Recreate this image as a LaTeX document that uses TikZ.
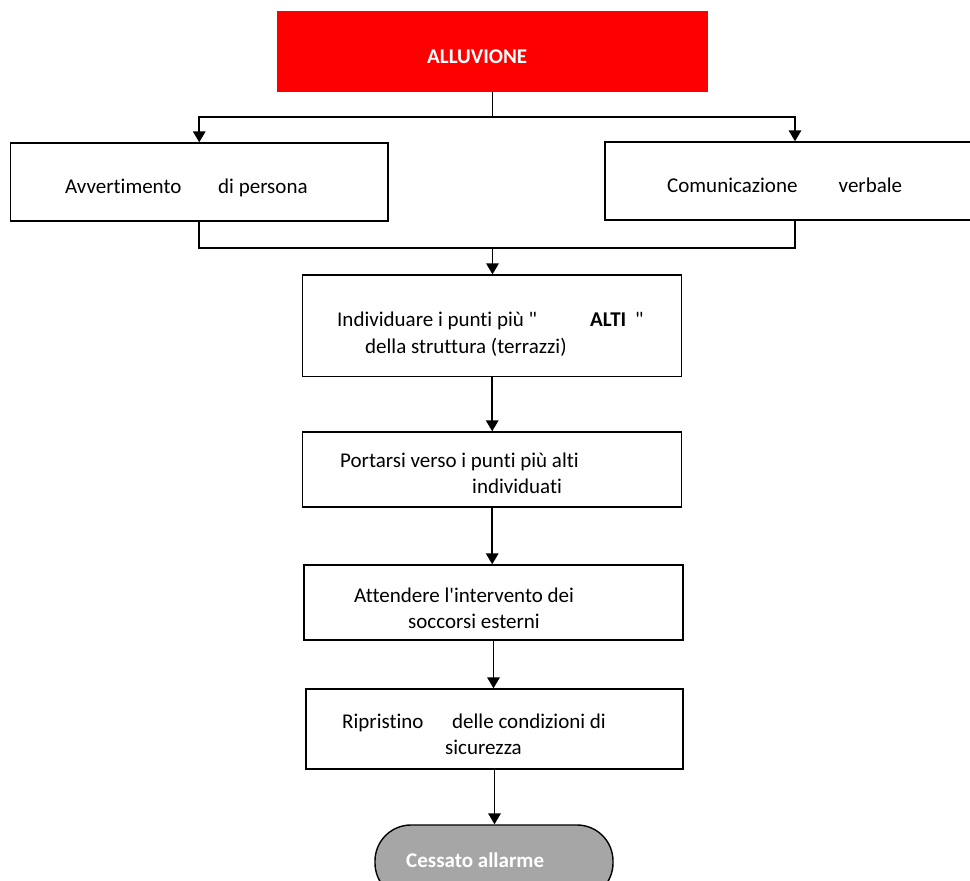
\documentclass[tikz,border=0pt]{standalone}
\usepackage{fontspec}
\setmainfont{Carlito}[Ligatures={TeXOff,NoCommon}]
\usetikzlibrary{arrows.meta}
\definecolor{alred}{HTML}{FF0000}
\definecolor{termgray}{HTML}{A6A6A6}
\tikzset{
  box/.style={draw=black, line width=1.4pt, inner sep=0pt, fill=white},
  txt/.style={anchor=base west, inner sep=0pt, font=\fontsize{21}{25}\selectfont},
  btxt/.style={txt, font=\fontsize{21}{25}\selectfont\bfseries},
  conn/.style={line width=1.7pt, draw=black},
  arr/.style={conn, -{Triangle[width=12.5pt,length=11pt]}}
}
\begin{document}
\begin{tikzpicture}[x=1pt,y=-1pt]
\useasboundingbox (0,0) rectangle (970,881);
\clip (0,0) rectangle (970,881);
% boxes
\node[fill=alred, inner sep=0pt, minimum width=431pt, minimum height=81pt] (allu) at (492.5,51.5) {};
\node[box, minimum width=377.5pt, minimum height=78pt] (avv) at (199.25,182) {};
\node[box, minimum width=380pt, minimum height=78pt] (com) at (795,181) {};
\node[box, minimum width=379pt, minimum height=101.7pt] (ind) at (492.2,325.9) {};
\node[box, minimum width=379pt, minimum height=75pt] (por) at (492.2,469.5) {};
\node[box, minimum width=379pt, minimum height=75pt] (att) at (493.5,602.5) {};
\node[box, minimum width=377pt, minimum height=80pt] (rip) at (494.5,729) {};
\node[box, fill=termgray, rounded corners=36pt, minimum width=238pt, minimum height=74pt] (cess) at (494,862) {};
% texts
\node[btxt, text=white] (tallu) at (427,63) {ALLUVIONE};
\node[txt] (tavv1) at (65,193) {Avvertimento};
\node[txt] (tavv2) at (218,193) {di persona};
\node[txt] (tcom1) at (667,192) {Comunicazione};
\node[txt] (tcom2) at (838.5,192) {verbale};
\node[txt] (tind1) at (337,326) {Individuare i punti più "};
\node[btxt] (tind2) at (590,326) {ALTI};
\node[txt] (tind3) at (635,326) {"};
\node[txt] (tind4) at (365,353) {della struttura (terrazzi)};
\node[txt] (tpor1) at (340,467) {Portarsi verso i punti più alti};
\node[txt] (tpor2) at (472,493) {individuati};
\node[txt] (tatt1) at (354,602) {Attendere l'intervento dei};
\node[txt] (tatt2) at (408,628) {soccorsi esterni};
\node[txt] (trip1) at (342,728) {Ripristino};
\node[txt] (trip2) at (452,728) {delle condizioni di};
\node[txt] (trip3) at (445,754) {sicurezza};
\node[btxt, text=white] (tcess) at (406,867) {Cessato allarme};
% connectors
\coordinate (s1) at (492.5,117);
\coordinate (s2) at (492.5,248);
\draw[conn] (allu.south) -- (s1);
\draw[arr] (s1) -| (avv.north);
\draw[arr] (s1) -| (com.north);
\draw[conn] (avv.south) |- (s2) -| (com.south);
\draw[arr] (s2) -- (s2 |- ind.north);
\draw[arr] (ind.south) -- (ind.south |- por.north);
\draw[arr] (por.south) -- (por.south |- att.north);
\draw[arr] (att.south) -- (att.south |- rip.north);
\draw[arr] (rip.south) -- (rip.south |- cess.north);
\end{tikzpicture}
\end{document}
